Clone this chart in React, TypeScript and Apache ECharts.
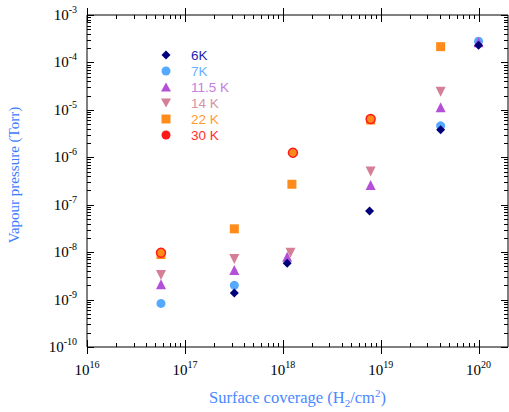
import React, { useEffect, useRef } from 'react';
import * as echarts from 'echarts';

// ---- data (x: surface coverage H2/cm^2, y: vapour pressure Torr) ----
const seriesNames = ['6K', '7K', '11.5 K', '14 K', '22 K', '30 K'];
const k6: number[][] = [[3.2e17, 1.38e-9], [1.11e18, 5.8e-9], [7.7e18, 7.4e-8], [4.1e19, 3.8e-6], [1e20, 2.3e-4]];
const k7: number[][] = [[5.7e16, 8.3e-10], [3.2e17, 2.0e-9], [4.1e19, 4.6e-6], [1e20, 2.8e-4]];
const k115: number[][] = [[5.7e16, 2.1e-9], [3.2e17, 4.2e-9], [1.11e18, 8.0e-9], [7.9e18, 2.6e-7], [4.1e19, 1.13e-5], [1e20, 2.65e-4]];
const k14: number[][] = [[5.7e16, 3.3e-9], [3.2e17, 7.2e-9], [1.2e18, 9.7e-9], [7.9e18, 5.0e-7], [4.1e19, 2.4e-5]];
const k22: number[][] = [[5.7e16, 8.9e-9], [3.2e17, 3.1e-8], [1.24e18, 2.7e-7], [7.9e18, 6.1e-6], [4.1e19, 2.15e-4]];
const k30: number[][] = [[5.7e16, 9.7e-9], [1.27e18, 1.25e-6], [7.9e18, 6.4e-6]];

const xTickExponents = [16, 17, 18, 19, 20];
const yTickExponents = [-10, -9, -8, -7, -6, -5, -4, -3];

const X_MIN = 1e16;
const X_MAX = 2e20;
const Y_MIN = 1e-10;
const Y_MAX = 1e-3;

const markerColors = ['#00007a', '#55aaff', '#b450d8', '#d47f96', '#ff8c1a', '#ff1a1a'];
const textColors = ['#2424b0', '#66b0ff', '#c47ee0', '#d990a4', '#ff9a33', '#ff3030'];
const DOWN_TRI = 'path://M0,0 L10,0 L5,9 Z';
const ICON_DIAMOND = 'path://M5,0 L10,5 L5,10 L0,5 Z';
const ICON_CIRCLE = 'path://M0,5 A5,5 0 1,1 10,5 A5,5 0 1,1 0,5 Z';
const ICON_UP_TRI = 'path://M5,0 L10,9 L0,9 Z';
const ICON_SQUARE = 'path://M0,0 L10,0 L10,10 L0,10 Z';
const legendIcons = [ICON_DIAMOND, ICON_CIRCLE, ICON_UP_TRI, DOWN_TRI, ICON_SQUARE, ICON_CIRCLE];

function minorTicks(lo: number, hi: number, vmin: number, vmax: number) {
  const out: number[] = [];
  for (let n = lo; n <= hi; n++) {
    for (let k = 2; k <= 9; k++) {
      const v = k * Math.pow(10, n);
      if (v > vmin && v < vmax) out.push(v);
    }
  }
  return out;
}

const supLabel = (tickExps: number[]) => (v: number) => {
  const e = Math.log10(v);
  const r = Math.round(e);
  if (Math.abs(e - r) > 0.01 || tickExps.indexOf(r) < 0) return '';
  return `{b|10}{s|${r}}`;
};

const labelRich = {
  b: { fontFamily: 'Liberation Serif', fontSize: 15, color: '#000', lineHeight: 15, verticalAlign: 'bottom' },
  s: { fontFamily: 'Liberation Serif', fontSize: 10, color: '#000', lineHeight: 10, padding: [0, 0, 8, 0], verticalAlign: 'bottom' },
};

function tickSeries(kind: 'x' | 'y', values: number[], major: boolean) {
  const data = values.map((v) => (kind === 'x' ? [v, Y_MIN] : [X_MIN, v]));
  return {
    type: 'custom',
    silent: true,
    clip: false,
    z: 10,
    data,
    renderItem: (_p: any, api: any) => {
      const v = kind === 'x' ? api.value(0) : api.value(1);
      const stroke = { stroke: '#000', lineWidth: 1 };
      if (kind === 'x') {
        const pb = api.coord([v, Y_MIN]);
        const pt = api.coord([v, Y_MAX]);
        const x = Math.round(pb[0]) + 0.5;
        const len = major ? 7 : 4;
        const out = major ? 7 : 0;
        return {
          type: 'group',
          children: [
            { type: 'line', shape: { x1: x, y1: pb[1] + out, x2: x, y2: pb[1] - len }, style: stroke },
            { type: 'line', shape: { x1: x, y1: pt[1] - out, x2: x, y2: pt[1] + len }, style: stroke },
          ],
        };
      }
      const pl = api.coord([X_MIN, v]);
      const pr = api.coord([X_MAX, v]);
      const y = Math.round(pl[1]) + 0.5;
      const len = major ? 7 : 4;
      return {
        type: 'group',
        children: [
          { type: 'line', shape: { x1: pl[0], y1: y, x2: pl[0] + len, y2: y }, style: stroke },
          { type: 'line', shape: { x1: pr[0], y1: y, x2: pr[0] - len, y2: y }, style: stroke },
        ],
      };
    },
  };
}

export default function App() {
  const ref = useRef<HTMLDivElement>(null);
  useEffect(() => {
    if (!ref.current) return;
    const chart = echarts.init(ref.current, undefined, { renderer: 'svg' });
    const scatter = (name: string, data: number[][], symbol: string, size: number, idx: number, extra: any = {}) => ({
      type: 'scatter',
      name,
      data,
      symbol,
      symbolSize: size,
      itemStyle: { color: markerColors[idx], opacity: 1, ...extra },
      z: 5,
    });
    const xMajor = xTickExponents.map((e) => Math.pow(10, e));
    const yMajor = yTickExponents.map((e) => Math.pow(10, e));
    chart.setOption({
      animation: false,
      backgroundColor: '#fff',
      grid: {
        left: 87, right: 1, top: 15, bottom: 65,
        outerBoundsMode: 'none', containLabel: false,
        show: true, borderColor: '#000', borderWidth: 1, backgroundColor: 'transparent',
      },
      legend: {
        orient: 'vertical',
        left: 156,
        top: 43,
        itemWidth: 40,
        itemHeight: 9,
        itemGap: 2,
        symbolKeepAspect: true,
        selectedMode: false,
        textStyle: { fontFamily: 'Liberation Sans', fontSize: 13.5 },
        data: seriesNames.map((n, i) => ({
          name: n,
          icon: legendIcons[i],
          itemStyle: { color: markerColors[i], borderWidth: 0 },
          textStyle: { color: textColors[i] },
        })),
      },
      xAxis: [
        {
          type: 'log',
          logBase: 10,
          min: X_MIN,
          max: X_MAX,
          interval: 1,
          position: 'bottom',
          axisLine: { show: false },
          axisTick: { show: false },
          splitLine: { show: false },
          axisLabel: {
            formatter: supLabel(xTickExponents),
            rich: labelRich,
            margin: 15,
            showMinLabel: true,
            showMaxLabel: true,
            hideOverlap: false,
          },
          name: '{t|Surface coverage (H}{sub|2}{t|/cm}{sup|2}{t|)}',
          nameLocation: 'middle',
          nameGap: 42,
          nameTextStyle: {
            rich: {
              t: { fontFamily: 'Liberation Serif', fontSize: 16.5, color: '#4a88ff', lineHeight: 17, verticalAlign: 'middle' },
              sub: { fontFamily: 'Liberation Serif', fontSize: 11, color: '#4a88ff', lineHeight: 11, padding: [10, 0, 0, 0], verticalAlign: 'middle' },
              sup: { fontFamily: 'Liberation Serif', fontSize: 11, color: '#4a88ff', lineHeight: 11, padding: [0, 0, 9, 0], verticalAlign: 'middle' },
            },
          },
        },
      ],
      yAxis: [
        {
          type: 'log',
          logBase: 10,
          min: Y_MIN,
          max: Y_MAX,
          interval: 1,
          position: 'left',
          axisLine: { show: false },
          axisTick: { show: false },
          splitLine: { show: false },
          axisLabel: {
            formatter: supLabel(yTickExponents),
            rich: labelRich,
            margin: 10,
            showMinLabel: true,
            showMaxLabel: true,
            hideOverlap: false,
          },
          name: 'Vapour pressure (Torr)',
          nameLocation: 'middle',
          nameGap: 66,
          nameRotate: 90,
          nameTextStyle: { fontFamily: 'Liberation Serif', fontSize: 15, color: '#3b7bff', padding: [0, 0, 0, 12] },
        },
      ],
      series: [
        tickSeries('x', xMajor, true),
        tickSeries('x', minorTicks(16, 20, X_MIN, X_MAX), false),
        tickSeries('y', yMajor, true),
        tickSeries('y', minorTicks(-10, -4, Y_MIN, Y_MAX), false),
        scatter('22 K', k22, 'rect', 9, 4),
        scatter('30 K', k30, 'circle', 9, 5, { color: '#ff8c1a', borderColor: '#ff1a1a', borderWidth: 1.5 }),
        scatter('7K', k7, 'circle', 9, 1),
        scatter('14 K', k14, DOWN_TRI, 10, 3),
        scatter('11.5 K', k115, 'triangle', 10, 2),
        scatter('6K', k6, 'diamond', 9, 0),
      ],
    });
    return () => chart.dispose();
  }, []);
  return (
    <div style={{ position: 'fixed', left: 0, top: 0, width: 509, height: 412, background: '#fff' }}>
      <div ref={ref} style={{ width: 509, height: 412 }} />
    </div>
  );
}
